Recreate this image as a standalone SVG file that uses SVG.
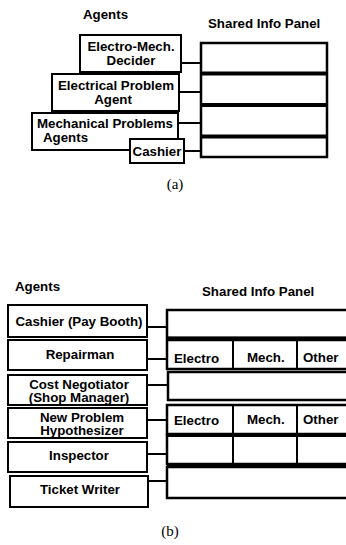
<svg xmlns="http://www.w3.org/2000/svg" width="346" height="545" viewBox="0 0 346 545">
<style>
.t{font-family:"Liberation Sans",Arial,sans-serif;font-weight:bold;font-size:13.3px;fill:#000}
.c{text-anchor:middle}
.cap{font-family:"Liberation Serif","Times New Roman",serif;font-size:15px;fill:#000;text-anchor:middle}
.box{fill:#fff;stroke:#000;stroke-width:2}
.pan{fill:#fff;stroke:#000;stroke-width:2.5}
.sep{stroke:#000;stroke-width:4}
.ln{stroke:#000;stroke-width:2;fill:none}
</style>
<rect width="346" height="545" fill="#fff"/>
<!-- Part (a) -->
<text class="t" x="83" y="19">Agents</text>
<text class="t" x="208" y="28">Shared Info Panel</text>
<g id="a-panel">
<rect class="pan" x="201" y="43" width="126" height="114"/>
<line class="sep" x1="201" y1="73.5" x2="327" y2="73.5"/>
<line class="sep" x1="201" y1="105" x2="327" y2="105"/>
<line class="sep" x1="201" y1="136.5" x2="327" y2="136.5"/>
</g>
<g id="a-connectors">
<line class="ln" x1="181" y1="63" x2="201" y2="63"/>
<line class="ln" x1="179" y1="92" x2="201" y2="92"/>
<line class="ln" x1="178" y1="123" x2="201" y2="123"/>
<line class="ln" x1="184" y1="151" x2="201" y2="151"/>
</g>
<g id="a-electromech">
<rect class="box" x="80" y="35" width="101" height="37"/>
<text class="t c" x="131" y="51">Electro-Mech.</text>
<text class="t c" x="131" y="64.5">Decider</text>
</g>
<g id="a-electrical">
<rect class="box" x="52" y="74" width="127" height="37"/>
<text class="t c" x="116" y="90">Electrical Problem</text>
<text class="t c" x="113" y="103.5">Agent</text>
</g>
<g id="a-mechanical">
<rect class="box" x="32" y="113" width="146" height="37"/>
<text class="t" x="37" y="128">Mechanical Problems</text>
<text class="t" x="43" y="141.5">Agents</text>
</g>
<g id="a-cashier">
<rect class="box" x="130" y="139" width="54" height="24"/>
<text class="t c" x="157" y="156">Cashier</text>
</g>
<text class="cap" x="175" y="189">(a)</text>
<!-- Part (b) -->
<text class="t" x="15" y="291">Agents</text>
<text class="t" x="202" y="296">Shared Info Panel</text>
<g id="b-panel">
<rect class="pan" x="167" y="310" width="190" height="28"/>
<rect class="pan" x="167" y="340" width="190" height="29"/>
<rect class="pan" x="168" y="372" width="190" height="28"/>
<rect class="pan" x="167" y="405" width="190" height="29"/>
<rect class="pan" x="167" y="435" width="190" height="29"/>
<rect class="pan" x="167" y="467" width="190" height="31"/>
<line class="sep" x1="167" y1="338.5" x2="346" y2="338.5"/>
<line class="sep" x1="167" y1="435" x2="346" y2="435"/>
<line class="sep" x1="167" y1="465.5" x2="346" y2="465.5"/>
<line class="ln" x1="233" y1="340" x2="233" y2="369"/>
<line class="ln" x1="297" y1="340" x2="297" y2="369"/>
<line class="ln" x1="233" y1="405" x2="233" y2="465"/>
<line class="ln" x1="297" y1="405" x2="297" y2="465"/>
<text class="t" x="174" y="363">Electro</text>
<text class="t" x="247" y="362">Mech.</text>
<text class="t" x="303" y="362">Other</text>
<text class="t" x="174" y="425">Electro</text>
<text class="t" x="247" y="424">Mech.</text>
<text class="t" x="303" y="424">Other</text>
</g>
<g id="b-connectors">
<line class="ln" x1="147" y1="327" x2="167" y2="327"/>
<line class="ln" x1="147" y1="359" x2="167" y2="359"/>
<line class="ln" x1="147" y1="385" x2="168" y2="385"/>
<line class="ln" x1="147" y1="420" x2="167" y2="420"/>
<line class="ln" x1="147" y1="454" x2="167" y2="454"/>
<line class="ln" x1="148" y1="481" x2="167" y2="481"/>
</g>
<g id="b-cashier">
<rect class="box" x="8" y="305" width="139" height="32"/>
<text class="t c" x="79" y="326">Cashier (Pay Booth)</text>
</g>
<g id="b-repairman">
<rect class="box" x="8" y="340" width="139" height="30"/>
<text class="t c" x="80" y="359">Repairman</text>
</g>
<g id="b-costneg">
<rect class="box" x="8" y="375" width="139" height="30"/>
<text class="t c" x="79" y="389">Cost Negotiator</text>
<text class="t c" x="79" y="401.5">(Shop Manager)</text>
</g>
<g id="b-newprob">
<rect class="box" x="8" y="408" width="139" height="30"/>
<text class="t c" x="82" y="422">New Problem</text>
<text class="t c" x="82" y="434.5">Hypothesizer</text>
</g>
<g id="b-inspector">
<rect class="box" x="8" y="442" width="139" height="30"/>
<text class="t c" x="79" y="460">Inspector</text>
</g>
<g id="b-ticket">
<rect class="box" x="10" y="476" width="138" height="31"/>
<text class="t c" x="80" y="494">Ticket Writer</text>
</g>
<text class="cap" x="170" y="536">(b)</text>
</svg>
